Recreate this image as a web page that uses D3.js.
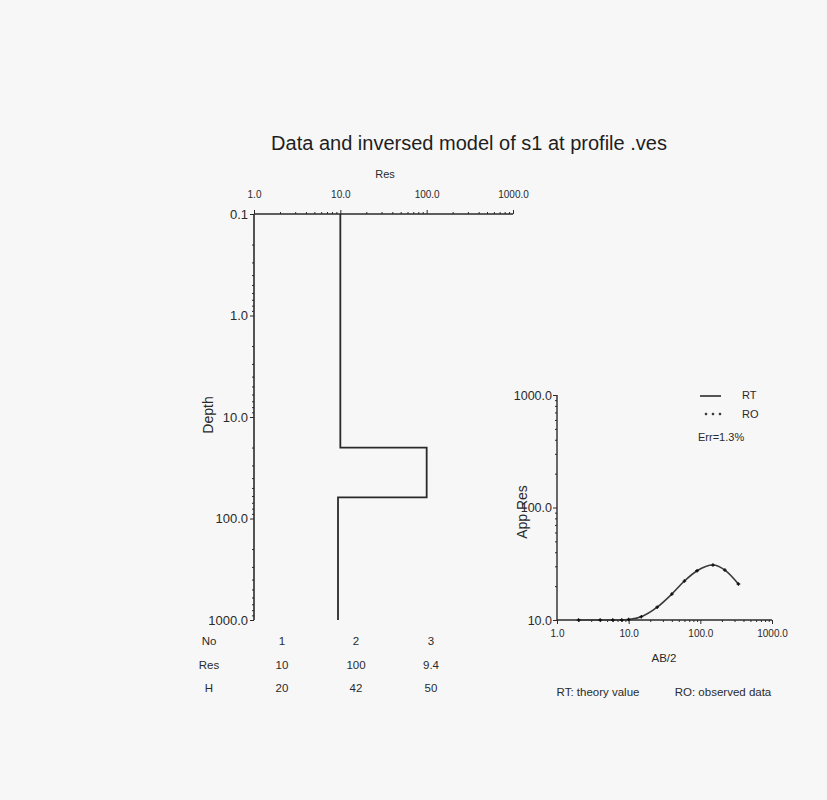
<!DOCTYPE html>
<html>
<head>
<meta charset="utf-8">
<script src="https://cdn.jsdelivr.net/npm/d3@7"></script>
<style>
  html, body { margin: 0; padding: 0; background: #f7f7f7; }
  svg { display: block; }
  .cond { font-family: "Liberation Sans Narrow", "Arial Narrow", "Liberation Sans", Arial, sans-serif; }
  .sans { font-family: "Liberation Sans", Arial, sans-serif; }
</style>
</head>
<body>
<svg id="chart" width="827" height="800"></svg>
<script>
// ---- model table ----
const layerNo  = [1, 2, 3];
const layerRes = [10, 100, 9.4];
const layerH   = [20, 42, 50];

// ---- axis ticks ----
const resTicks   = [1, 10, 100, 1000];
const depthTicks = [0.1, 1, 10, 100, 1000];
const ab2Ticks   = [1, 10, 100, 1000];
const appTicks   = [10, 100, 1000];

// ---- sounding curve: AB/2 spacing, theory (RT) and observed (RO) apparent resistivity ----
const ab2     = [2, 4, 6, 8, 10, 15, 25, 40, 60, 90, 150, 220, 340];
const rtValue = [10, 10, 10, 10, 10.1, 10.7, 13, 17, 22.2, 27.4, 30.8, 27.8, 20.9];
const roValue = [10, 10, 10, 10, 10.1, 10.7, 13, 17, 22.2, 27.4, 30.8, 27.8, 20.9];

const errText = "Err=1.3%";

const svg = d3.select("#chart");
const ink = "#2a2a2a";
const fmt = d3.format(".1f");

function minorTicks(lo, hi) {
  const out = [];
  for (let p = Math.log10(lo); p < Math.log10(hi) - 1e-9; p++) {
    const base = Math.pow(10, p);
    for (let k = 2; k <= 9; k++) out.push(+(base * k).toPrecision(6));
  }
  return out;
}

function styleAxis(g) {
  g.select(".domain").remove();
  g.selectAll(".tick line").attr("stroke", ink).attr("stroke-width", 1);
  g.selectAll(".tick text").attr("fill", ink);
}

// ---- title ----
svg.append("text").attr("class", "sans")
  .attr("x", 469).attr("y", 150).attr("text-anchor", "middle")
  .attr("font-size", 20).attr("fill", "#1e1e1e")
  .text("Data and inversed model of s1 at profile .ves");

// ================= left panel: resistivity vs depth =================
const xL = d3.scaleLog().domain([1, 1000]).range([254, 513]);
const yL = d3.scaleLog().domain([0.1, 1000]).range([214, 620]);

// top axis
const gTop = svg.append("g").attr("transform", `translate(0,${yL(0.1)})`);
gTop.call(d3.axisTop(xL).tickValues(minorTicks(1, 1000)).tickSize(2).tickFormat(""))
  .call(styleAxis);
const gTopMaj = svg.append("g").attr("class", "cond").attr("transform", `translate(0,${yL(0.1)})`);
gTopMaj.call(d3.axisTop(xL).tickValues(resTicks).tickSize(4).tickPadding(12).tickFormat(fmt))
  .call(styleAxis);
gTopMaj.selectAll(".tick text").attr("font-size", 10);
svg.append("line").attr("x1", xL(1)).attr("x2", xL(1000))
  .attr("y1", yL(0.1)).attr("y2", yL(0.1)).attr("stroke", ink).attr("stroke-width", 1.6);

svg.append("text").attr("class", "cond")
  .attr("x", 385).attr("y", 178).attr("text-anchor", "middle")
  .attr("font-size", 11).attr("fill", ink).text("Res");

// left axis
const gLeft = svg.append("g").attr("transform", `translate(${xL(1)},0)`);
gLeft.call(d3.axisLeft(yL).tickValues(minorTicks(0.1, 1000)).tickSize(2).tickFormat(""))
  .call(styleAxis);
const gLeftMaj = svg.append("g").attr("class", "cond").attr("transform", `translate(${xL(1)},0)`);
gLeftMaj.call(d3.axisLeft(yL).tickValues(depthTicks).tickSize(4).tickPadding(2).tickFormat(fmt))
  .call(styleAxis);
gLeftMaj.selectAll(".tick text").attr("font-size", 13);
svg.append("line").attr("x1", xL(1)).attr("x2", xL(1))
  .attr("y1", yL(0.1)).attr("y2", yL(1000)).attr("stroke", ink).attr("stroke-width", 1.6);

svg.append("text").attr("class", "sans")
  .attr("transform", "translate(213,415) rotate(-90)")
  .attr("text-anchor", "middle").attr("font-size", 14).attr("fill", ink).text("Depth");

// layered model as a step line
const tops = [0.1];
layerH.forEach((h, i) => tops.push(i === 0 ? h : tops[tops.length - 1] + h));
const modelPts = [];
layerRes.forEach((r, i) => {
  const top = i === 0 ? 0.1 : tops[i];
  const bot = i === layerRes.length - 1 ? 1000 : tops[i + 1];
  modelPts.push([r, top], [r, bot]);
});
svg.append("path")
  .attr("d", d3.line().x(d => xL(d[0])).y(d => yL(d[1]))(modelPts))
  .attr("fill", "none").attr("stroke", ink).attr("stroke-width", 1.8);

// table under the left panel
const colX = [282, 356, 431];
const rows = [["No", layerNo, 645], ["Res", layerRes, 669], ["H", layerH, 692]];
rows.forEach(([name, vals, y]) => {
  svg.append("text").attr("class", "cond")
    .attr("x", 209).attr("y", y).attr("text-anchor", "middle")
    .attr("font-size", 11.5).attr("fill", ink).text(name);
  vals.forEach((v, i) => {
    svg.append("text").attr("class", "cond")
      .attr("x", colX[i]).attr("y", y).attr("text-anchor", "middle")
      .attr("font-size", 11.5).attr("fill", ink).text(v);
  });
});

// ================= right panel: sounding curve =================
const xR = d3.scaleLog().domain([1, 1000]).range([557, 772]);
const yR = d3.scaleLog().domain([10, 1000]).range([620, 395]);

const gBot = svg.append("g").attr("transform", `translate(0,${yR(10)})`);
gBot.call(d3.axisBottom(xR).tickValues(minorTicks(1, 1000)).tickSize(2).tickFormat(""))
  .call(styleAxis);
const gBotMaj = svg.append("g").attr("class", "cond").attr("transform", `translate(0,${yR(10)})`);
gBotMaj.call(d3.axisBottom(xR).tickValues(ab2Ticks).tickSize(4).tickPadding(6).tickFormat(fmt))
  .call(styleAxis);
gBotMaj.selectAll(".tick text").attr("font-size", 10);
svg.append("line").attr("x1", xR(1)).attr("x2", xR(1000))
  .attr("y1", yR(10)).attr("y2", yR(10)).attr("stroke", ink).attr("stroke-width", 1.6);

const gR = svg.append("g").attr("transform", `translate(${xR(1)},0)`);
gR.call(d3.axisLeft(yR).tickValues(minorTicks(10, 1000)).tickSize(2).tickFormat(""))
  .call(styleAxis);
const gRMaj = svg.append("g").attr("class", "cond").attr("transform", `translate(${xR(1)},0)`);
gRMaj.call(d3.axisLeft(yR).tickValues(appTicks).tickSize(4).tickPadding(1).tickFormat(fmt))
  .call(styleAxis);
gRMaj.selectAll(".tick text").attr("font-size", 12.5);
svg.append("line").attr("x1", xR(1)).attr("x2", xR(1))
  .attr("y1", yR(10)).attr("y2", yR(1000)).attr("stroke", ink).attr("stroke-width", 1.4);

svg.append("text").attr("class", "sans")
  .attr("transform", "translate(527,512) rotate(-90)")
  .attr("text-anchor", "middle").attr("font-size", 14).attr("fill", ink).text("App Res");

svg.append("text").attr("class", "cond")
  .attr("x", 664).attr("y", 662).attr("text-anchor", "middle")
  .attr("font-size", 11.5).attr("fill", ink).text("AB/2");

// theory curve
svg.append("path")
  .attr("d", d3.line().curve(d3.curveMonotoneX)
    .x((d, i) => xR(ab2[i])).y(d => yR(d))(rtValue))
  .attr("fill", "none").attr("stroke", "#3a3a3a").attr("stroke-width", 1.6);

// observed points
svg.append("g").selectAll("path").data(roValue).join("path")
  .attr("d", (d, i) => {
    const cx = xR(ab2[i]), cy = yR(d);
    return `M${cx - 1.8},${cy}H${cx + 1.8}M${cx},${cy - 1.8}V${cy + 1.8}`;
  })
  .attr("stroke", "#111").attr("stroke-width", 1.3);

// legend
svg.append("line").attr("x1", 700).attr("x2", 721).attr("y1", 396).attr("y2", 396)
  .attr("stroke", ink).attr("stroke-width", 1.6);
svg.append("text").attr("class", "cond").attr("x", 742).attr("y", 399)
  .attr("font-size", 11).attr("fill", ink).text("RT");
[706, 713, 720].forEach(cx => {
  svg.append("path").attr("d", `M${cx - 1.2},414H${cx + 1.2}M${cx},412.8V415.2`)
    .attr("stroke", ink).attr("stroke-width", 1.3);
});
svg.append("text").attr("class", "cond").attr("x", 742).attr("y", 418)
  .attr("font-size", 11).attr("fill", ink).text("RO");
svg.append("text").attr("class", "cond").attr("x", 698).attr("y", 441)
  .attr("font-size", 11).attr("fill", ink).text(errText);

// footnotes
svg.append("text").attr("class", "cond").attr("x", 598).attr("y", 696)
  .attr("text-anchor", "middle").attr("font-size", 11.5).attr("fill", ink).text("RT: theory value");
svg.append("text").attr("class", "cond").attr("x", 723).attr("y", 696)
  .attr("text-anchor", "middle").attr("font-size", 11.5).attr("fill", ink).text("RO: observed data");
</script>
</body>
</html>
